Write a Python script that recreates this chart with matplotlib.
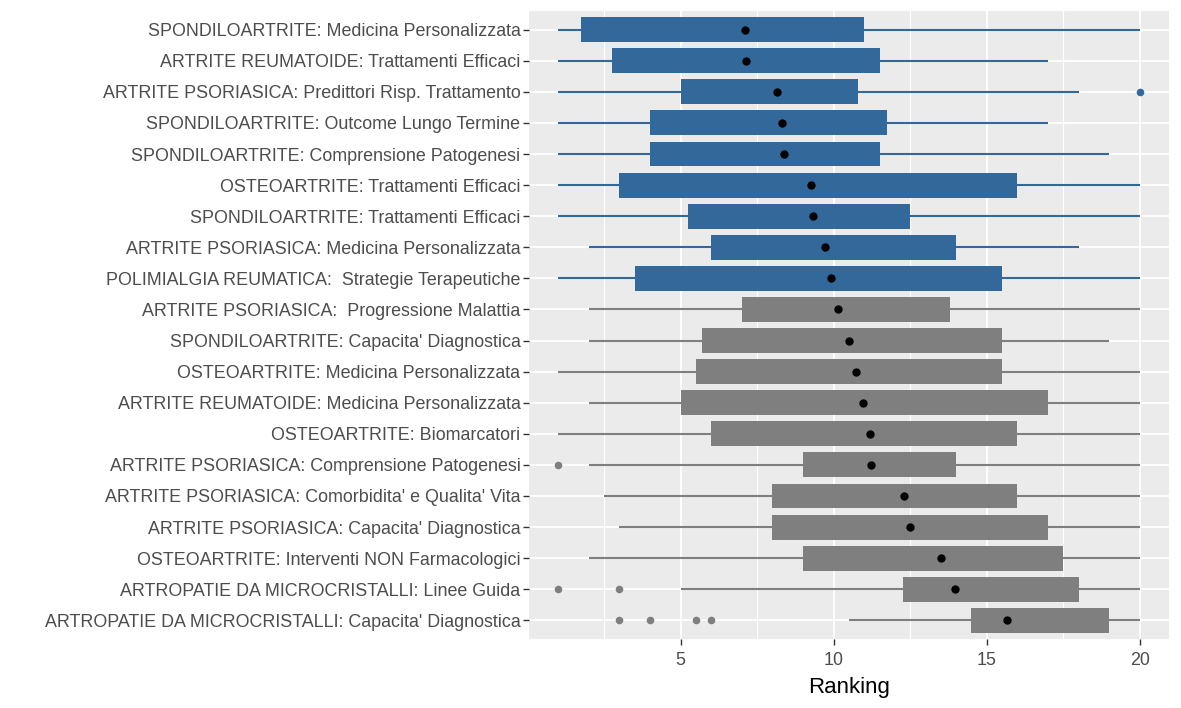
import numpy as np
import matplotlib.pyplot as plt

plt.rcParams['font.family'] = ['Liberation Sans', 'DejaVu Sans']

labels = [
    "SPONDILOARTRITE: Medicina Personalizzata",
    "ARTRITE REUMATOIDE: Trattamenti Efficaci",
    "ARTRITE PSORIASICA: Predittori Risp. Trattamento",
    "SPONDILOARTRITE: Outcome Lungo Termine",
    "SPONDILOARTRITE: Comprensione Patogenesi",
    "OSTEOARTRITE: Trattamenti Efficaci",
    "SPONDILOARTRITE: Trattamenti Efficaci",
    "ARTRITE PSORIASICA: Medicina Personalizzata",
    "POLIMIALGIA REUMATICA:  Strategie Terapeutiche",
    "ARTRITE PSORIASICA:  Progressione Malattia",
    "SPONDILOARTRITE: Capacita' Diagnostica",
    "OSTEOARTRITE: Medicina Personalizzata",
    "ARTRITE REUMATOIDE: Medicina Personalizzata",
    "OSTEOARTRITE: Biomarcatori",
    "ARTRITE PSORIASICA: Comprensione Patogenesi",
    "ARTRITE PSORIASICA: Comorbidita' e Qualita' Vita",
    "ARTRITE PSORIASICA: Capacita' Diagnostica",
    "OSTEOARTRITE: Interventi NON Farmacologici",
    "ARTROPATIE DA MICROCRISTALLI: Linee Guida",
    "ARTROPATIE DA MICROCRISTALLI: Capacita' Diagnostica",
]
whis_lo = [1, 1, 1, 1, 1, 1, 1, 2, 1, 2, 2, 1, 2, 1, 2, 2.5, 3, 2, 5, 10.5]
q1 = [1.75, 2.75, 5, 4, 4, 3, 5.25, 6, 3.5, 7, 5.7, 5.5, 5, 6, 9, 8, 8, 9, 12.25, 14.5]
q3 = [11, 11.5, 10.8, 11.75, 11.5, 16, 12.5, 14, 15.5, 13.8, 15.5, 15.5, 17, 16, 14, 16, 17, 17.5, 18, 19]
whis_hi = [20, 17, 18, 17, 19, 20, 20, 18, 20, 20, 19, 20, 20, 20, 20, 20, 20, 20, 20, 20]
means = [7.1, 7.15, 8.15, 8.3, 8.38, 9.25, 9.33, 9.72, 9.9, 10.14, 10.5, 10.72, 10.95, 11.17,
         11.21, 12.3, 12.5, 13.5, 13.96, 15.67]
outliers = {2: [20], 14: [1], 18: [1, 3], 19: [3, 4, 5.5, 6]}
highlight = [True] * 9 + [False] * 11

blue = '#33699A'
grey = '#7F7F7F'

fig = plt.figure(figsize=(11.81, 7.08), dpi=100)
ax = fig.add_axes([529 / 1181, 1 - 639 / 708, 640 / 1181, 628 / 708])
ax.set_facecolor('#EBEBEB')

n = len(labels)
y = np.arange(n)[::-1]
cols = [blue if h else grey for h in highlight]

ax.hlines(y, whis_lo, whis_hi, colors=cols, linewidth=1.5, zorder=2)
ax.barh(y, np.array(q3) - np.array(q1), left=q1, height=0.8, color=cols, zorder=3)
for i, pts in outliers.items():
    ax.scatter(pts, [y[i]] * len(pts), s=30, color=cols[i], zorder=4, linewidths=0)
ax.scatter(means, y, s=36, color='black', zorder=5, linewidths=0)

ax.set_xlim(0.05, 20.95)
ax.set_ylim(-0.6, n - 0.4)
ax.set_xticks([5, 10, 15, 20])
ax.set_xticks([2.5, 7.5, 12.5, 17.5], minor=True)
ax.set_yticks(y)
ax.set_yticklabels(labels)
ax.grid(which='major', color='white', linewidth=1.3, zorder=0)
ax.grid(which='minor', axis='x', color='white', linewidth=0.8, zorder=0)
ax.set_axisbelow(True)
for s in ax.spines.values():
    s.set_visible(False)
ax.tick_params(which='major', length=4.2, width=1.0, color='#333333',
               labelcolor='#4D4D4D', labelsize=12.9, pad=2)
ax.tick_params(axis='x', which='major', pad=5)
ax.tick_params(which='minor', length=0)
ax.set_xlabel('Ranking', fontsize=16, color='black', labelpad=6)

fig.savefig('out.png', dpi=100)
